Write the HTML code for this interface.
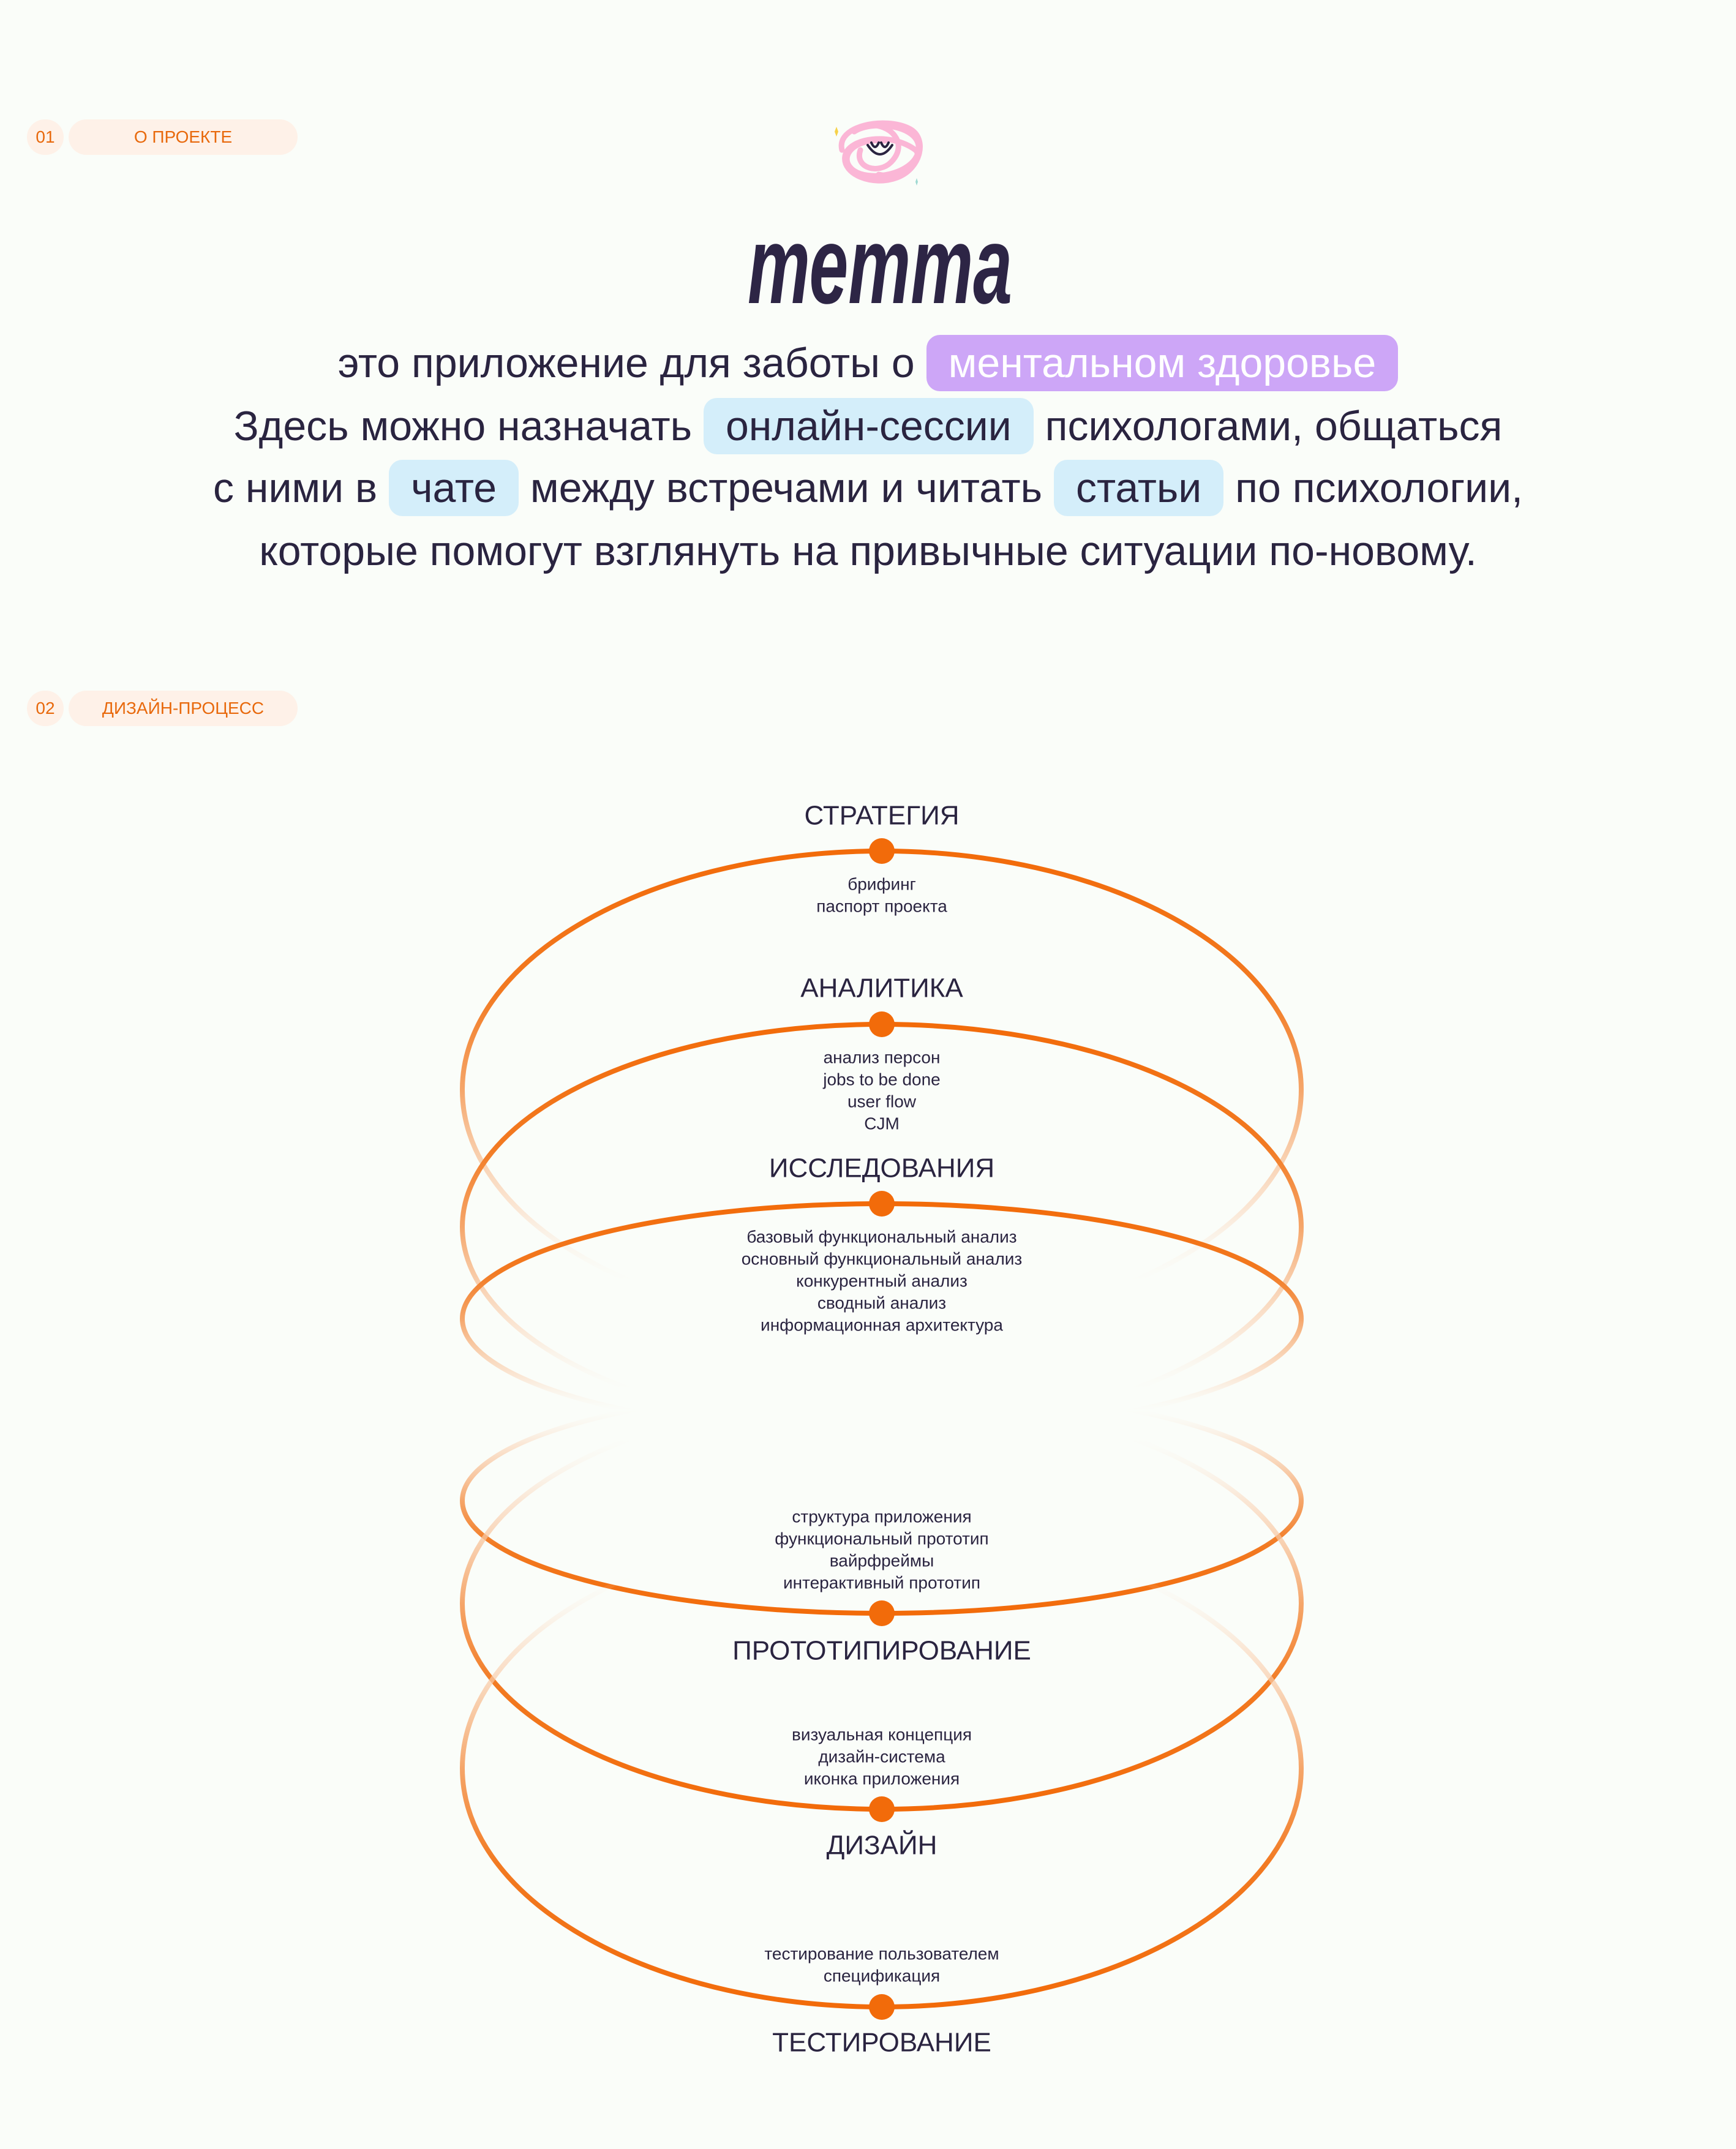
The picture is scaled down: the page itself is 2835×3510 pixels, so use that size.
<!DOCTYPE html>
<html><head><meta charset="utf-8">
<style>
html,body{margin:0;padding:0;background:#FAFDF9;}
body{width:2835px;height:3510px;position:relative;overflow:hidden;font-family:"Liberation Sans","DejaVu Sans",sans-serif;color:#2A2440;}
.tagc{position:absolute;left:44px;width:60px;height:58px;border-radius:29px;background:#FEF1E8;color:#E8690C;font-size:28px;line-height:58px;text-align:center;}
.tagp{position:absolute;left:112px;width:374px;height:58px;border-radius:29px;background:#FEF1E8;color:#E8690C;font-size:28px;line-height:58px;text-align:center;}
.line{position:absolute;left:0;width:2835px;text-align:center;font-size:68px;line-height:92px;height:92px;white-space:nowrap;}
.pill{display:inline-block;padding:0 36px;border-radius:22px;height:92px;line-height:92px;vertical-align:top;}
.pu{background:#CDA6F7;color:#fff;}
.bl{background:#D4EEFA;color:#2A2440;}
</style></head>
<body>
<div class="tagc" style="top:195px">01</div>
<div class="tagp" style="top:195px">О ПРОЕКТЕ</div>
<div class="tagc" style="top:1128px">02</div>
<div class="tagp" style="top:1128px">ДИЗАЙН-ПРОЦЕСС</div>

<svg style="position:absolute;left:1355px;top:185px" width="170" height="125" viewBox="0 0 170 125">
<g fill="none" stroke="#FBB6D6" stroke-width="9" stroke-linecap="round">
<path d="M20 60 C10 20 90 5 130 25 C160 40 150 90 110 105 C70 120 20 100 25 70 C30 40 100 30 140 60 C155 75 120 110 80 100"/>
<path d="M40 30 C70 10 150 20 145 60 C140 100 60 115 35 90 C15 70 40 40 90 45"/>
<path d="M60 20 C100 15 130 50 100 80 C80 100 40 90 50 60"/>
</g>
<path d="M68 48 q6 14 12 0 M84 48 q6 14 12 0 M62 52 q20 30 40 0" fill="none" stroke="#2A2440" stroke-width="4" stroke-linecap="round"/>
<path d="M8 30 l3 -8 3 8 -3 8z" fill="#F6D24A"/>
<path d="M140 112 l2 -6 2 6 -2 6z" fill="#9ED9D2"/>
</svg>

<svg style="position:absolute;left:0;top:0" width="2835" height="600" viewBox="0 0 2835 600">
<text x="1437" y="495" text-anchor="middle" font-family="Liberation Sans, sans-serif" font-weight="bold" font-style="italic" font-size="180" fill="#2D2545" textLength="432" lengthAdjust="spacingAndGlyphs">тетта</text>
</svg>

<div class="line" style="top:547px">это приложение для заботы о <span class="pill pu">ментальном здоровье</span></div>
<div class="line" style="top:650px">Здесь можно назначать <span class="pill bl">онлайн-сессии</span> психологами, общаться</div>
<div class="line" style="top:751px">с ними в <span class="pill bl">чате</span> между встречами и читать <span class="pill bl">статьи</span> по психологии,</div>
<div class="line" style="top:854px">которые помогут взглянуть на привычные ситуации по-новому.</div>

<svg style="position:absolute;left:0;top:0" width="2835" height="3510" viewBox="0 0 2835 3510">
<defs>
<linearGradient id="gd" x1="0" y1="0" x2="0" y2="1">
<stop offset="0" stop-color="#F26B0A"/>
<stop offset="0.3" stop-color="#F27A22"/>
<stop offset="0.5" stop-color="#F5A66A"/>
<stop offset="0.75" stop-color="#FAD8BD" stop-opacity="0.6"/>
<stop offset="0.9" stop-color="#FDF0E5" stop-opacity="0"/>
</linearGradient>
<linearGradient id="gu" x1="0" y1="1" x2="0" y2="0">
<stop offset="0" stop-color="#F26B0A"/>
<stop offset="0.3" stop-color="#F27A22"/>
<stop offset="0.5" stop-color="#F5A66A"/>
<stop offset="0.75" stop-color="#FAD8BD" stop-opacity="0.6"/>
<stop offset="0.9" stop-color="#FDF0E5" stop-opacity="0"/>
</linearGradient>
</defs>
<g fill="none" stroke-width="8">
<ellipse cx="1440" cy="1780" rx="685" ry="390" stroke="url(#gd)"/>
<ellipse cx="1440" cy="2004" rx="685" ry="331" stroke="url(#gd)"/>
<ellipse cx="1440" cy="2154" rx="685" ry="188" stroke="url(#gd)"/>
<ellipse cx="1440" cy="2451" rx="685" ry="184" stroke="url(#gu)"/>
<ellipse cx="1440" cy="2619" rx="685" ry="336" stroke="url(#gu)"/>
<ellipse cx="1440" cy="2888" rx="685" ry="390" stroke="url(#gu)"/>
</g>
<g fill="#F26B0A">
<circle cx="1440" cy="1390" r="21"/><circle cx="1440" cy="1673" r="21"/><circle cx="1440" cy="1966" r="21"/>
<circle cx="1440" cy="2635" r="21"/><circle cx="1440" cy="2955" r="21"/><circle cx="1440" cy="3278" r="21"/>
</g>
<g font-family="Liberation Sans, DejaVu Sans, sans-serif" text-anchor="middle" dominant-baseline="central" fill="#2A2440">
<g font-size="44">
<text x="1440" y="1332">СТРАТЕГИЯ</text>
<text x="1440" y="1614">АНАЛИТИКА</text>
<text x="1440" y="1908">ИССЛЕДОВАНИЯ</text>
<text x="1440" y="2696">ПРОТОТИПИРОВАНИЕ</text>
<text x="1440" y="3014">ДИЗАЙН</text>
<text x="1440" y="3336">ТЕСТИРОВАНИЕ</text>
</g>
<g font-size="28">
<text x="1440" y="1444">брифинг</text><text x="1440" y="1480">паспорт проекта</text>
<text x="1440" y="1727">анализ персон</text><text x="1440" y="1763">jobs to be done</text><text x="1440" y="1799">user flow</text><text x="1440" y="1835">CJM</text>
<text x="1440" y="2020">базовый функциональный анализ</text><text x="1440" y="2056">основный функциональный анализ</text><text x="1440" y="2092">конкурентный анализ</text><text x="1440" y="2128">сводный анализ</text><text x="1440" y="2164">информационная архитектура</text>
<text x="1440" y="2477">структура приложения</text><text x="1440" y="2513">функциональный прототип</text><text x="1440" y="2549">вайрфреймы</text><text x="1440" y="2585">интерактивный прототип</text>
<text x="1440" y="2833">визуальная концепция</text><text x="1440" y="2869">дизайн-система</text><text x="1440" y="2905">иконка приложения</text>
<text x="1440" y="3191">тестирование пользователем</text><text x="1440" y="3227">спецификация</text>
</g>
</g>
</svg>
</body></html>
